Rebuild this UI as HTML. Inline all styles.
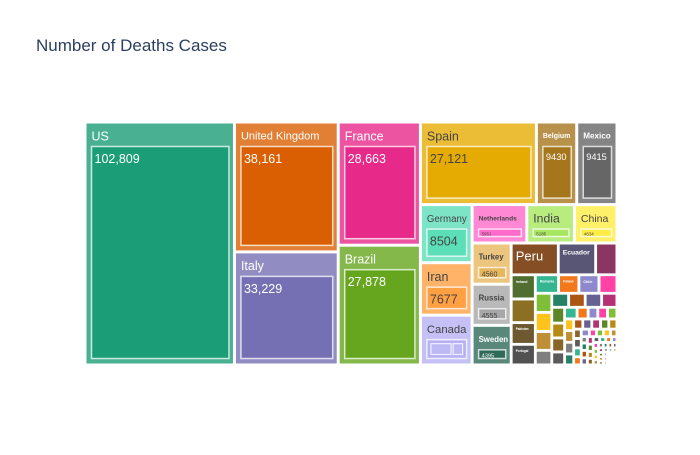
<!DOCTYPE html>
<html><head><meta charset="utf-8">
<style>
body{margin:0;background:#fff;}
svg text{font-family:"Liberation Sans",sans-serif;}
</style></head>
<body>
<svg id="chart" width="700" height="450" xmlns="http://www.w3.org/2000/svg">
<rect width="700" height="450" fill="#fff"/>
<text x="36" y="51" font-size="17" fill="#2a3f5f">Number of Deaths Cases</text>
<g id="tiles"></g>
</svg>
<script>
const countries = ["US","United Kingdom","Italy","France","Brazil","Spain","Belgium","Mexico","Germany","Iran","Canada","Netherlands","India","China","Turkey","Russia","Sweden","Peru","Ecuador","Switzerland","Ireland","Indonesia","Pakistan","Portugal","Romania","Poland","Chile","Philippines","Japan","Colombia","Egypt","South Africa","Austria","Ukraine","Algeria","Bangladesh","Denmark","Argentina","Hungary","Dominican Republic","Saudi Arabia","Bolivia","Finland","Czechia","Nigeria","Moldova","Afghanistan","Panama","Israel","Honduras","UAE","Sudan","Serbia","Norway","Kuwait","Belarus","Iraq","Cameroon","Greece","Bosnia","Armenia","Guatemala","North Macedonia","Luxembourg","C1","C2","C3","C4","C5","C6","C7","C8","C9","C10","C11","C12","C13","C14","C15","C16","C17","C18","C19","C20","C21","C22","C23","C24","C25","C26","C27","C28","C29","C30","C31","C32","C33","C34","C35","C36","C37","C38","C39","C40","C41","C42","C43","C44","C45","C46","C47","C48","C49","C50","C51","C52","C53"];
const deaths = [102809,38161,33229,28663,27878,27121,9430,9415,8504,7677,7295,5951,5185,4634,4560,4555,4395,4230,3358,1919,1650,1613,1483,1410,1216,1064,1054,942,892,890,879,683,668,658,653,610,574,539,509,474,411,364,320,319,314,300,300,299,284,262,260,250,238,237,200,199,190,175,175,150,150,150,140,110,130,130,125,125,120,115,110,105,100,95,90,88,85,80,78,75,72,70,68,65,62,60,58,55,52,50,48,45,42,40,38,35,33,30,28,25,22,20,18,15,12,10,8,6,5,4,3,3,2,2,1,1,1];
const canadaParts = [4800, 2495];

const AREA = {x0:85, y0:122, x1:617, y1:365};
const base = ["#1b9e77","#d95f02","#7570b3","#e7298a","#66a61e","#e6ab02","#a6761d","#666666"];
function hex2rgb(h){return [1,3,5].map(i=>parseInt(h.substr(i,2),16));}
function rgb2hex(c){return "#"+c.map(v=>Math.max(0,Math.min(255,Math.round(v))).toString(16).padStart(2,"0")).join("");}
function mix(h,t,f){const a=hex2rgb(h),b=hex2rgb(t);return rgb2hex(a.map((v,i)=>v+(b[i]-v)*f));}
function add(h,n){return rgb2hex(hex2rgb(h).map(v=>v+n));}
function colorFor(i){const k=Math.floor(i/8), c=base[i%8];
  if(k===0) return c;
  const lvl=Math.ceil(k/2);
  if(k%2) return add(c, lvl===1?65:25);
  return mix(c,"#404040", lvl===1?0.55:0.3);}
function lum(h){const c=hex2rgb(h);return (0.299*c[0]+0.587*c[1]+0.114*c[2])/255;}

function squarify(nodes,x0,y0,x1,y1,ratio){
  let i0=0,i1=0,n=nodes.length,value=nodes.reduce((s,d)=>s+d.value,0);
  while(i0<n){
    const dx=x1-x0, dy=y1-y0;
    let sumValue,nodeValue;
    do sumValue=nodes[i1++].value; while(!sumValue&&i1<n);
    let minValue=sumValue,maxValue=sumValue;
    const alpha=Math.max(dy/dx,dx/dy)/(value*ratio);
    let beta=sumValue*sumValue*alpha;
    let minRatio=Math.max(maxValue/beta,beta/minValue);
    for(;i1<n;++i1){
      sumValue+=nodeValue=nodes[i1].value;
      if(nodeValue<minValue)minValue=nodeValue;
      if(nodeValue>maxValue)maxValue=nodeValue;
      beta=sumValue*sumValue*alpha;
      const nr=Math.max(maxValue/beta,beta/minValue);
      if(nr>minRatio){sumValue-=nodeValue;break;}
      minRatio=nr;
    }
    const row=nodes.slice(i0,i1);
    if(dx<dy){const ny=value?y0+dy*sumValue/value:y1;let x=x0;
      row.forEach(d=>{const w=(x1-x0)*d.value/sumValue;d.x0=x;d.x1=x+w;d.y0=y0;d.y1=ny;x+=w;});y0=ny;}
    else{const nx=value?x0+dx*sumValue/value:x1;let y=y0;
      row.forEach(d=>{const h=(y1-y0)*d.value/sumValue;d.y0=y;d.y1=y+h;d.x0=x0;d.x1=nx;y+=h;});x0=nx;}
    value-=sumValue;i0=i1;
  }
}
const NS="http://www.w3.org/2000/svg";
const g=document.getElementById("tiles");
function mk(tag,attrs,parent){const e=document.createElementNS(NS,tag);for(const k in attrs)e.setAttribute(k,attrs[k]);(parent||g).appendChild(e);return e;}
function fit(len,w,max){return Math.min(max,(w)/(len*0.6));}

const nodes=countries.map((c,i)=>({name:c,value:deaths[i],idx:i}));
squarify(nodes,AREA.x0,AREA.y0,AREA.x1,AREA.y1,1);

nodes.forEach(d=>{
  const col=colorFor(d.idx), outer=mix(col,"#ffffff",0.2);
  const x=d.x0+1.5,y=d.y0+1.5,w=d.x1-d.x0-3,h=d.y1-d.y0-3;
  if(w<=0.5||h<=0.5)return;
  const grp=mk("g",{});
  
  
  mk("rect",{x:x,y:y,width:w,height:h,fill:outer},grp);
  const tc=lum(outer)>0.62?"#444":"#fff";
  const label=d.name;
  const valTxt=d.value>=10000?d.value.toLocaleString("en-US"):String(d.value);
  if(h>=32&&w>=16){
    const hh=Math.min(23,h-10);
    const fs=fit(label.length,w-8,12.5);
    if(fs>=2.5){const t=mk("text",{x:x+5,y:y+Math.min(hh,20)*0.5+fs*0.38+2,"font-size":fs,fill:tc,"font-weight":fs<9?"bold":"normal"},grp);t.textContent=label;}
    const ix=x+5,iy=y+hh,iw=w-9,ih=h-hh-5;
    if(iw>1&&ih>1){
      mk("rect",{x:ix,y:iy,width:iw,height:ih,fill:col,stroke:"rgba(255,255,255,0.75)","stroke-width":1.5},grp);
      if(d.name==="Canada"){
        const parts=canadaParts.map(v=>({value:v}));
        squarify(parts,ix+3,iy+3,ix+iw-3,iy+ih-3,1);
        parts.forEach(p=>mk("rect",{x:p.x0+1,y:p.y0+1,width:p.x1-p.x0-2,height:p.y1-p.y0-2,fill:mix(col,"#ffffff",0.1),stroke:"rgba(255,255,255,0.8)","stroke-width":1.2},grp));
      } else {
        const tc2=lum(col)>0.55?"#444":"#fff";
        const vs=Math.min(fit(valTxt.length,iw-6,12.5),ih-3);
        if(vs>=2.5){const t=mk("text",{x:ix+3,y:iy+Math.min(vs+4,ih-1),"font-size":vs,fill:tc2},grp);t.textContent=valTxt;}
      }
    }
  } else {
    mk("rect",{x:x,y:y,width:w,height:h,fill:col},grp);
    const fs=fit(label.length,w-6,13);
    if(fs>=3&&h>fs+4){const t=mk("text",{x:x+3,y:y+fs+3,"font-size":fs,fill:lum(col)>0.62?"#444":"#fff","font-weight":fs<9?"bold":"normal"},grp);t.textContent=label;}
  }
});
</script>
</body></html>
